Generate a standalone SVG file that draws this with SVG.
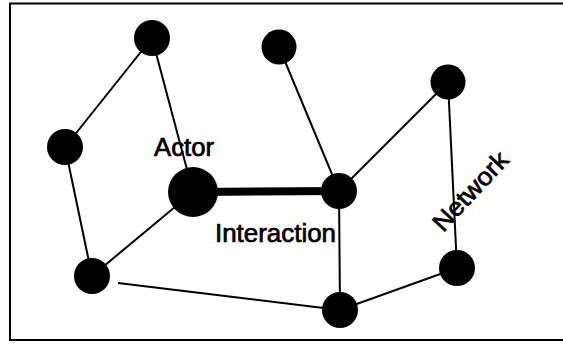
<svg xmlns="http://www.w3.org/2000/svg" width="563" height="345" viewBox="0 0 563 345">
<style>
.frame{fill:none;stroke:#000;stroke-width:2}
.edge{stroke:#000;stroke-width:2;fill:none}
.thick{stroke:#000;stroke-width:8;fill:none}
.node{fill:#000}
.lbl{font-family:"Liberation Sans",Arial,sans-serif;font-size:25px;fill:#000;stroke:#000;stroke-width:0.7}
</style>
<rect width="563" height="345" fill="#fff"/>
<rect class="frame" x="10" y="3.5" width="570" height="336.5"/>
<g id="connectors">
<line class="edge" x1="152" y1="38" x2="65" y2="147"/>
<line class="edge" x1="152" y1="38" x2="193" y2="192"/>
<line class="edge" x1="65" y1="147" x2="92" y2="276"/>
<line class="edge" x1="92" y1="276" x2="193" y2="192"/>
<line class="edge" x1="118" y1="283" x2="340" y2="310"/>
<line class="edge" x1="279" y1="47" x2="339" y2="191"/>
<line class="edge" x1="339" y1="191" x2="448" y2="82"/>
<line class="edge" x1="339" y1="191" x2="340" y2="310"/>
<line class="edge" x1="448" y1="82" x2="457" y2="268"/>
<line class="edge" x1="340" y1="310" x2="457" y2="268"/>
<line class="thick" x1="193" y1="192" x2="339" y2="191"/>
</g>
<g id="n-topleft"><circle class="node" cx="152" cy="38" r="18"/></g>
<g id="n-left"><circle class="node" cx="65" cy="147" r="18"/></g>
<g id="n-actor"><circle class="node" cx="193" cy="192" r="25"/></g>
<g id="n-bottomleft"><circle class="node" cx="92" cy="276" r="18"/></g>
<g id="n-topmid"><circle class="node" cx="279" cy="47" r="17.5"/></g>
<g id="n-center"><circle class="node" cx="339" cy="191" r="18"/></g>
<g id="n-topright"><circle class="node" cx="448" cy="82" r="17.5"/></g>
<g id="n-bottomright"><circle class="node" cx="457" cy="268" r="18"/></g>
<g id="n-bottommid"><circle class="node" cx="340" cy="310" r="18"/></g>
<g id="labels">
<text class="lbl" x="154" y="156" textLength="60" lengthAdjust="spacingAndGlyphs">Actor</text>
<text class="lbl" x="215" y="242" textLength="121" lengthAdjust="spacingAndGlyphs">Interaction</text>
<text class="lbl" transform="translate(470,191) rotate(-47)" x="0" y="9" text-anchor="middle" textLength="98" lengthAdjust="spacingAndGlyphs">Network</text>
</g>
</svg>
